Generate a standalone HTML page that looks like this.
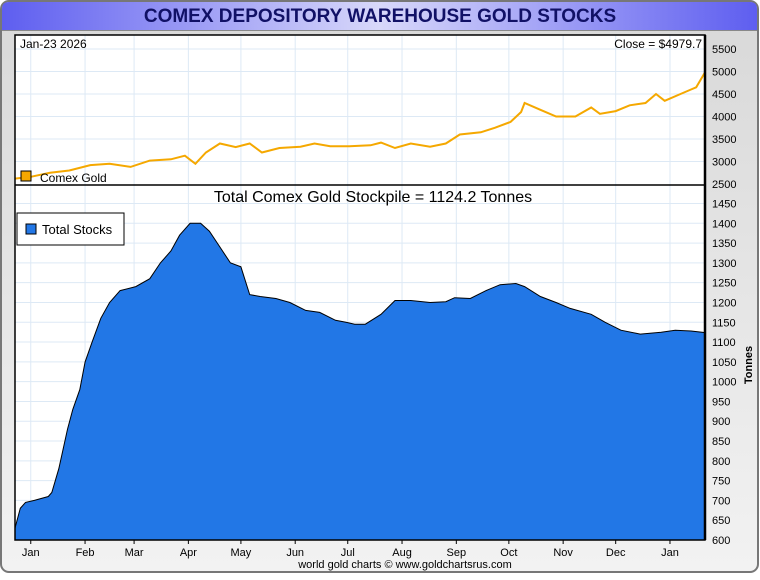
<!DOCTYPE html>
<html><head><meta charset="utf-8"><style>
body{margin:0;background:#fff;font-family:"Liberation Sans",sans-serif}
</style></head><body>
<svg width="760" height="575" xmlns="http://www.w3.org/2000/svg">
<defs>
<linearGradient id="tb" x1="0" x2="1"><stop offset="0" stop-color="#5e5ef0"/><stop offset="0.5" stop-color="#d8d8fa"/><stop offset="1" stop-color="#5e5ef0"/></linearGradient>
<linearGradient id="bg" x1="0" x2="0" y1="0" y2="1"><stop offset="0" stop-color="#d8d8d8"/><stop offset="1" stop-color="#f2f2f2"/></linearGradient>
</defs>
<rect x="1" y="1" width="757" height="571" rx="8" fill="url(#bg)" stroke="#777" stroke-width="2"/>
<path d="M2 30 V9 Q2 2 9 2 H750 Q757 2 757 9 V30 Z" fill="url(#tb)"/>
<line x1="2" y1="30.5" x2="757" y2="30.5" stroke="#888"/>
<text x="380" y="22" text-anchor="middle" font-size="19" font-weight="bold" fill="#111166">COMEX DEPOSITORY WAREHOUSE GOLD STOCKS</text>
<rect x="15" y="35" width="690" height="505" fill="#fff"/>
<g id="grid"></g>
<g id="marks"></g>
<rect x="15" y="35" width="690" height="505" fill="none" stroke="#000" stroke-width="1.5"/>
<line x1="15" y1="185" x2="705" y2="185" stroke="#000" stroke-width="1.5"/>
<line x1="705" y1="35" x2="705" y2="540" stroke="#000" stroke-width="2.5"/>
<g id="axes" font-size="11" fill="#000"></g>
<text x="20" y="48" font-size="12">Jan-23  2026</text>
<text x="702" y="48" font-size="12" text-anchor="end">Close = $4979.7</text>
<rect x="21" y="171" width="10" height="10" fill="#f5a800" stroke="#000"/>
<text x="40" y="182" font-size="12">Comex Gold</text>
<text x="373" y="202" font-size="16" text-anchor="middle">Total Comex Gold Stockpile = 1124.2 Tonnes</text>
<rect x="17" y="213" width="107" height="32" fill="#fff" stroke="#000"/>
<rect x="26" y="224" width="10" height="10" fill="#2277e6" stroke="#000"/>
<text x="42" y="234" font-size="13">Total Stocks</text>
<text transform="translate(752,365) rotate(-90)" font-size="11" font-weight="bold" text-anchor="middle">Tonnes</text>
<text x="405" y="568" font-size="11" text-anchor="middle">world gold charts © www.goldchartsrus.com</text>
</svg>
<script>
const monthLabels=["Jan","Feb","Mar","Apr","May","Jun","Jul","Aug","Sep","Oct","Nov","Dec","Jan"];
const monthDays=[9,40,68,99,129,160,190,221,252,282,313,343,374];
const stockDays=[0,3,6,11,19,21,25,27,30,33,37,40,44,49,54,60,69,77,83,89,94,100,106,111,117,123,129,134,140,149,157,166,174,183,189,194,200,209,217,226,237,246,251,260,269,277,286,291,300,309,317,329,337,346,357,369,377,386,394];
const stockValues=[630,680,695,700,710,720,780,820,880,930,980,1050,1100,1160,1200,1230,1240,1260,1300,1330,1370,1400,1400,1380,1340,1300,1290,1220,1215,1210,1200,1180,1175,1155,1150,1145,1145,1170,1205,1205,1200,1202,1212,1210,1230,1245,1248,1240,1215,1200,1185,1170,1150,1130,1120,1125,1130,1128,1124];
const goldDays=[0,9,20,31,43,54,66,77,89,97,103,109,117,126,134,141,151,163,171,180,191,203,209,217,226,237,246,254,266,274,283,289,291,300,309,320,329,334,343,351,360,366,371,380,386,389,394];
const goldValues=[2620,2660,2750,2800,2920,2950,2880,3020,3050,3130,2950,3200,3400,3320,3400,3200,3300,3330,3400,3340,3340,3360,3420,3300,3400,3330,3400,3600,3650,3750,3880,4100,4300,4150,4000,4000,4200,4060,4120,4250,4300,4500,4350,4500,4600,4650,4980];
const goldTicks=[2500,3000,3500,4000,4500,5000,5500];
const stockTicks=[];for(let v=600;v<=1450;v+=50)stockTicks.push(v);
const X=d=>15+d*(690/394);
const YG=v=>184-(v-2500)*(135/3000);
const YS=v=>540-(v-600)*(336.5/850);
const NS="http://www.w3.org/2000/svg";
function mk(t,a,p){const e=document.createElementNS(NS,t);for(const k in a)e.setAttribute(k,a[k]);p.appendChild(e);return e;}
const grid=document.getElementById('grid'),marks=document.getElementById('marks'),axes=document.getElementById('axes');
monthDays.forEach((d,i)=>{
 const g=mk('line',{x1:X(d),x2:X(d),y1:35,y2:540,stroke:'#dde9f5'},grid);
 
 
 mk('line',{x1:X(d),x2:X(d),y1:540,y2:544,stroke:'#000'},axes);
 const t=mk('text',{x:X(d),y:556,'text-anchor':'middle'},axes);t.textContent=monthLabels[i];
 
 
});
goldTicks.forEach(v=>{
 if(v>2500)mk('line',{x1:15,x2:705,y1:YG(v),y2:YG(v),stroke:'#dde9f5'},grid);
 const t=mk('text',{x:712,y:YG(v)+4},axes);t.textContent=v;
 
 
});
stockTicks.forEach(v=>{
 mk('line',{x1:15,x2:705,y1:YS(v),y2:YS(v),stroke:'#dde9f5'},grid);
 const t=mk('text',{x:712,y:YS(v)+4},axes);t.textContent=v;
 
 
});
let d='M'+X(stockDays[0])+' 540';
stockDays.forEach((s,i)=>{d+=' L'+X(s).toFixed(1)+' '+YS(stockValues[i]).toFixed(1);});
d+=' L'+X(stockDays[stockDays.length-1])+' 540 Z';
const area=mk('path',{d:d,fill:'#2277e6',stroke:'#000','stroke-width':1},marks);


const gp=goldDays.map((s,i)=>X(s).toFixed(1)+','+YG(goldValues[i]).toFixed(1)).join(' ');
const line=mk('polyline',{points:gp,fill:'none',stroke:'#f5a800','stroke-width':2},marks);


</script>
</body></html>
